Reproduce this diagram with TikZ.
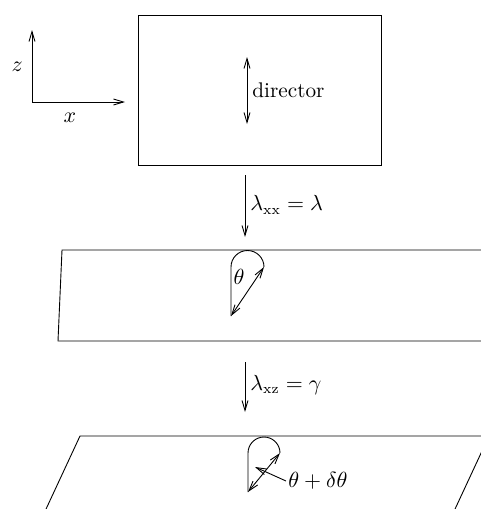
\documentclass[tikz,border=0pt]{standalone}
\usepackage{amsmath}
\usetikzlibrary{calc,arrows.meta}

\begin{document}
\begin{tikzpicture}[x=0.5pt,y=-0.5pt,font=\fontsize{10.6}{13}\selectfont,
  line width=0.45pt, >={Straight Barb[length=5pt,width=3pt]}]
\useasboundingbox (0,0) rectangle (481,509);
\clip (0,0) rectangle (481,509);
% axes
  \coordinate (O) at (32,102);
  \coordinate (zend) at (32,30);
  \coordinate (xend) at (125,102);
  \draw[->] (O) -- (zend);
  \draw[->] (O) -- (xend);
  \node[anchor=east] (zlab) at (30,67) {$z$};
  \node[anchor=north] (xlab) at (70,106) {$x$};
% undeformed sample
  \draw (138,15) rectangle (381,165);
  \coordinate (dtop) at (247,57);
  \coordinate (dbot) at (247,124);
  \draw[<->] (dtop) -- (dbot);
  \node[anchor=west, inner sep=1pt] (dirlab) at (250,90) {director};

% first step
  \coordinate (sone) at (245,175);
  \coordinate (eone) at (245,237);
  \draw[->] (sone) -- (eone);
  \node[anchor=west, inner sep=1pt] (lamxx) at (248,205) {$\lambda_{\mathrm{xx}}=\lambda$};

% stretched sample
  \draw (490,250) -- (62,250) -- (58,341) -- (490,341);
  \coordinate (rbot) at (231,316);
  \coordinate (rtop) at (264,267);
  \draw[<->] (rbot) -- (rtop);
  \draw (rbot) -- (231,267) arc[start angle=180, end angle=0, radius=8.25pt];
  \node (thlab) at (239,277) {$\theta$};

% second step
  \coordinate (stwo) at (245,362);
  \coordinate (etwo) at (245,412);
  \draw[->] (stwo) -- (etwo);
  \node[anchor=west, inner sep=1pt] (lamxz) at (248,385) {$\lambda_{\mathrm{xz}}=\gamma$};

% sheared sample
  \draw (40,522) -- (80,436) -- (489,436) -- (449,522);
  \coordinate (sbot) at (248,492);
  \coordinate (stop) at (280,453);
  \draw[<->] (sbot) -- (stop);
  \draw (sbot) -- (248,453) arc[start angle=180, end angle=0, radius=8pt];
  \node[anchor=west, inner sep=1pt] (dthlab) at (286,481) {$\theta+\delta\theta$};
  \coordinate (ptip) at (255,467);
  \draw[->] (dthlab.west) -- (ptip);
\end{tikzpicture}
\end{document}
